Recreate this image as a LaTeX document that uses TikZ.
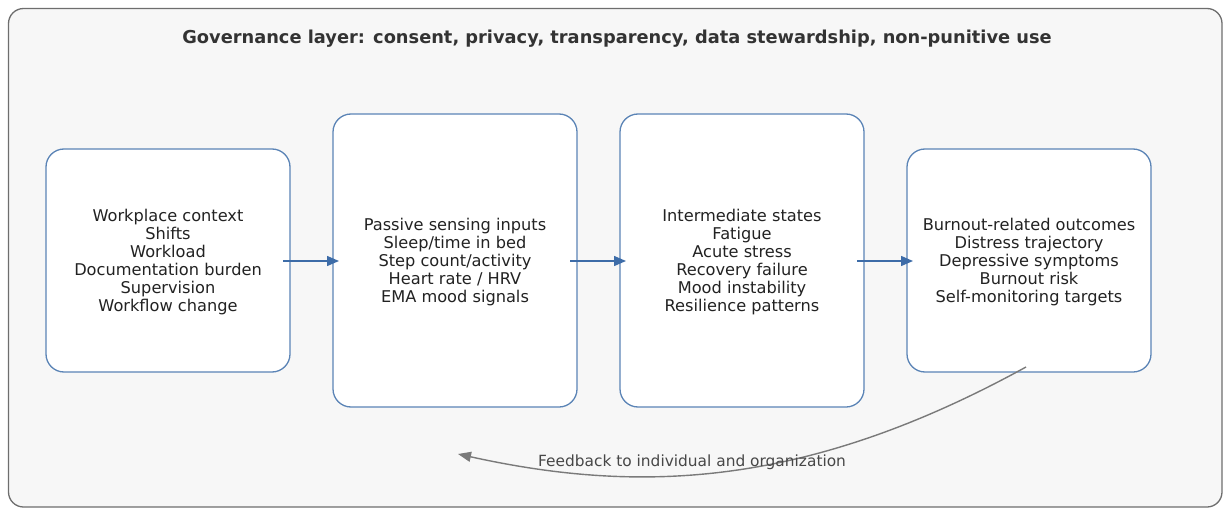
\documentclass[tikz,border=0pt]{standalone}
\usepackage{fontspec}
\setmainfont{DejaVu Sans}
\usetikzlibrary{arrows.meta}
\definecolor{boxblue}{HTML}{5B84B6}
\definecolor{arrblue}{HTML}{3D6CA8}
\definecolor{outergray}{HTML}{6E6E6E}
\definecolor{outerfill}{HTML}{F7F7F7}
\definecolor{txt}{HTML}{222222}
\definecolor{fbgray}{HTML}{7A7A7A}
\tikzset{
  stage/.style={draw=boxblue, line width=1.3pt, fill=white, rounded corners=18pt,
    minimum width=244pt, minimum height=#1, align=center, text=txt,
    font=\fontsize{16.2}{18}\selectfont, inner sep=0pt},
  stagetext/.style={align=center, text=txt, font=\fontsize{16.2}{18}\selectfont, inner sep=0pt},
  flow/.style={draw=arrblue, line width=1.4pt, -{Triangle[length=12pt,width=10pt]}},
  feedback/.style={draw=fbgray, line width=1.4pt, -{Triangle[length=13pt,width=10pt]}},
}
\begin{document}
\begin{tikzpicture}[x=1pt,y=-1pt]
\useasboundingbox (0,0) rectangle (1223,508);
\draw[draw=outergray, fill=outerfill, line width=1.3pt, rounded corners=15pt] (8.5,8.5) rectangle (1222,507);
\node[font=\bfseries\fontsize{17.8}{20}\selectfont, text=black!80] (title) at (617,38.5) {Governance layer: consent, privacy, transparency, data stewardship, non-punitive use};

\node[stage=223pt] (ctx) at (168,260.5) {};
\node[stage=293pt] (sens) at (455,260.5) {};
\node[stage=293pt] (inter) at (742,260.5) {};
\node[stage=223pt] (out) at (1029,260.5) {};
\node[stagetext] (ctxt) at (168,262.5) {Workplace context\\Shifts\\Workload\\Documentation burden\\Supervision\\Workflow change};
\node[stagetext] (senst) at (455,262.5) {Passive sensing inputs\\Sleep/time in bed\\Step count/activity\\Heart rate / HRV\\EMA mood signals};
\node[stagetext] (intert) at (742,262.5) {Intermediate states\\Fatigue\\Acute stress\\Recovery failure\\Mood instability\\Resilience patterns};
\node[stagetext] (outt) at (1029,262.5) {Burnout-related outcomes\\Distress trajectory\\Depressive symptoms\\Burnout risk\\Self-monitoring targets};

\coordinate (a1s) at (283,261); \coordinate (a1e) at (339,261);
\coordinate (a2s) at (570,261); \coordinate (a2e) at (626,261);
\coordinate (a3s) at (857,261); \coordinate (a3e) at (913,261);
\draw[flow] (a1s) -- (a1e);
\draw[flow] (a2s) -- (a2e);
\draw[flow] (a3s) -- (a3e);

\coordinate (fbs) at (1026,367);
\coordinate (fbe) at (458,454);
\draw[feedback] (fbs) .. controls (806,488) and (639,494) .. (fbe);
\node[font=\fontsize{15.4}{17}\selectfont, text=black!72] (fbl) at (692,462) {Feedback to individual and organization};
\end{tikzpicture}
\end{document}
